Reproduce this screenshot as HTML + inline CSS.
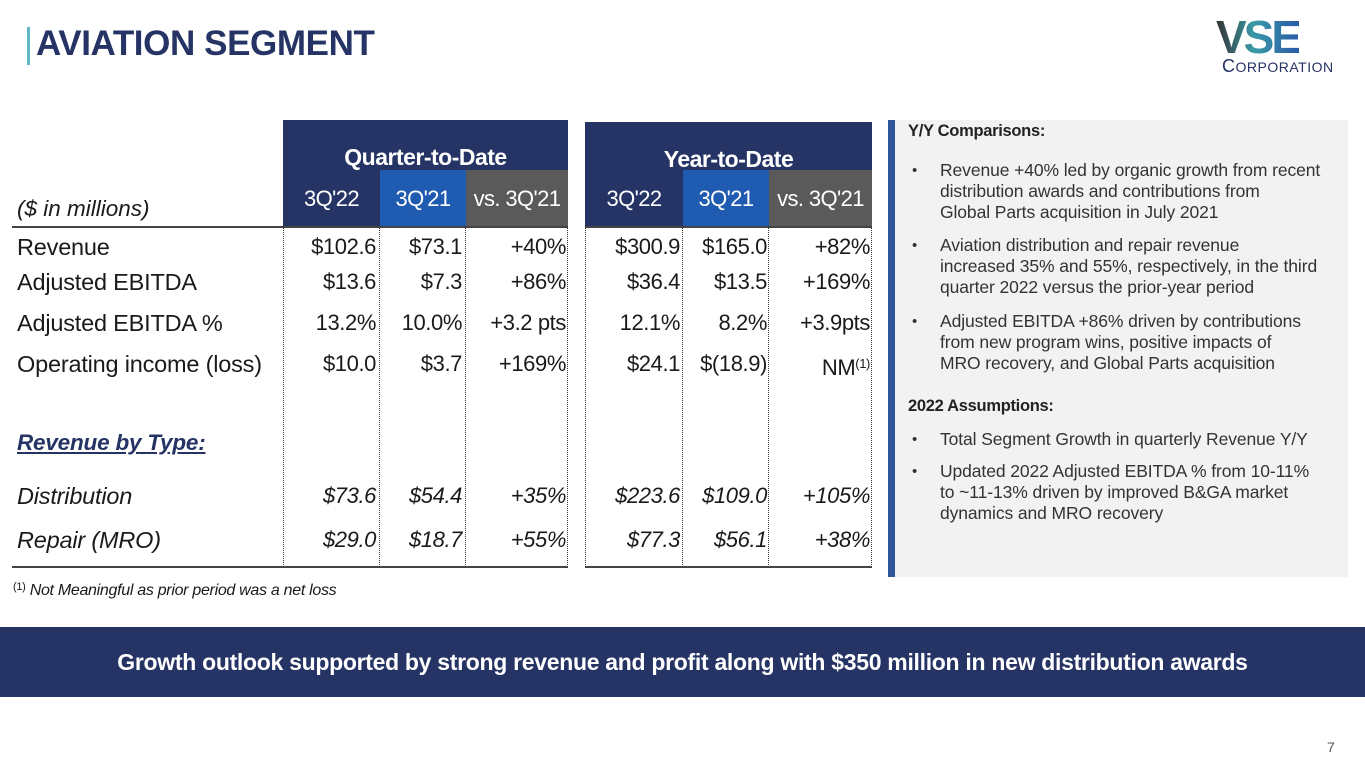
<!DOCTYPE html>
<html><head><meta charset="utf-8"><style>
body{margin:0;width:1365px;height:768px;position:relative;background:#fff;font-family:"Liberation Sans",sans-serif;overflow:hidden;color:#1a1a1a}
.a{position:absolute;white-space:nowrap}
.v{position:absolute;font-size:22px;line-height:26px;text-align:right;white-space:nowrap;letter-spacing:-0.4px}
.l{position:absolute;font-size:23.5px;line-height:26px;left:17px;white-space:nowrap;letter-spacing:-0.2px}
.dl{position:absolute;top:227px;height:340px;border-left:1px dotted #333}
.hd{position:absolute;color:#fff;font-size:22px;line-height:57px;text-align:center;letter-spacing:-0.6px}
.p{position:absolute;left:940px;font-size:17.5px;line-height:21px;white-space:nowrap;letter-spacing:-0.1px;color:#333}
.b{position:absolute;left:912px;font-size:15px;line-height:21px;color:#333}
</style></head><body>
<div class="a" style="left:27px;top:27px;width:3px;height:38px;background:#5fb8c8"></div>
<div class="a" style="left:36px;top:24px;font-size:35px;font-weight:bold;color:#253365;letter-spacing:-0.4px">AVIATION SEGMENT</div>
<div class="a" style="left:1216px;top:14px;font-size:46px;font-weight:bold;letter-spacing:-3px;line-height:46px;background:linear-gradient(90deg,#333 0%,#3a9aa8 45%,#2a5aa8 100%);-webkit-background-clip:text;color:transparent">VSE</div>
<div class="a" style="left:1222px;top:56px;font-size:18px;color:#253365;letter-spacing:0.5px">C<span style="font-size:14px">ORPORATION</span></div>

<div class="a" style="left:283px;top:120px;width:285px;height:50px;background:#253365;color:#fff;font-weight:bold;font-size:23px;line-height:74px;text-align:center;letter-spacing:-0.5px">Quarter-to-Date</div>
<div class="hd" style="left:283px;top:170px;width:97px;background:#253365">3Q'22</div>
<div class="hd" style="left:380px;top:170px;width:86px;background:#1f5bb0">3Q'21</div>
<div class="hd" style="left:466px;top:170px;width:102px;background:#5a5a5a">vs. 3Q'21</div>
<div class="a" style="left:585px;top:122px;width:287px;height:48px;background:#253365;color:#fff;font-weight:bold;font-size:23px;line-height:74px;text-align:center;letter-spacing:-0.5px">Year-to-Date</div>
<div class="hd" style="left:585px;top:170px;width:98px;background:#253365">3Q'22</div>
<div class="hd" style="left:683px;top:170px;width:86px;background:#1f5bb0">3Q'21</div>
<div class="hd" style="left:769px;top:170px;width:103px;background:#5a5a5a">vs. 3Q'21</div>

<div class="a" style="left:17px;top:196px;font-size:22.5px;font-style:italic">($ in millions)</div>
<div class="a" style="left:12px;top:226px;width:556px;height:2px;background:#444"></div>
<div class="a" style="left:585px;top:226px;width:287px;height:2px;background:#444"></div>
<div class="a" style="left:12px;top:566px;width:556px;height:2px;background:#444"></div>
<div class="a" style="left:585px;top:566px;width:287px;height:2px;background:#444"></div>
<div class="dl" style="left:283px"></div><div class="dl" style="left:379px"></div><div class="dl" style="left:465px"></div><div class="dl" style="left:567px"></div>
<div class="dl" style="left:585px"></div><div class="dl" style="left:682px"></div><div class="dl" style="left:768px"></div><div class="dl" style="left:871px"></div>

<div class="l" style="top:234px">Revenue</div>
<div class="l" style="top:269px">Adjusted EBITDA</div>
<div class="l" style="top:310px">Adjusted EBITDA %</div>
<div class="l" style="top:351px">Operating income (loss)</div>
<div class="l" style="top:430px;font-weight:bold;font-style:italic;text-decoration:underline;color:#253365;font-size:22.5px">Revenue by Type:</div>
<div class="l" style="top:483px;font-style:italic">Distribution</div>
<div class="l" style="top:527px;font-style:italic">Repair (MRO)</div>

<div class="v" style="right:989px;top:234px">$102.6</div><div class="v" style="right:903px;top:234px">$73.1</div><div class="v" style="right:799px;top:234px">+40%</div>
<div class="v" style="right:685px;top:234px">$300.9</div><div class="v" style="right:598px;top:234px">$165.0</div><div class="v" style="right:495px;top:234px">+82%</div>
<div class="v" style="right:989px;top:269px">$13.6</div><div class="v" style="right:903px;top:269px">$7.3</div><div class="v" style="right:799px;top:269px">+86%</div>
<div class="v" style="right:685px;top:269px">$36.4</div><div class="v" style="right:598px;top:269px">$13.5</div><div class="v" style="right:495px;top:269px">+169%</div>
<div class="v" style="right:989px;top:310px">13.2%</div><div class="v" style="right:903px;top:310px">10.0%</div><div class="v" style="right:799px;top:310px">+3.2 pts</div>
<div class="v" style="right:685px;top:310px">12.1%</div><div class="v" style="right:598px;top:310px">8.2%</div><div class="v" style="right:495px;top:310px">+3.9pts</div>
<div class="v" style="right:989px;top:351px">$10.0</div><div class="v" style="right:903px;top:351px">$3.7</div><div class="v" style="right:799px;top:351px">+169%</div>
<div class="v" style="right:685px;top:351px">$24.1</div><div class="v" style="right:598px;top:351px">$(18.9)</div><div class="v" style="right:495px;top:351px">NM<span style="font-size:13px;vertical-align:7px">(1)</span></div>
<div class="v" style="right:989px;top:483px;font-style:italic">$73.6</div><div class="v" style="right:903px;top:483px;font-style:italic">$54.4</div><div class="v" style="right:799px;top:483px;font-style:italic">+35%</div>
<div class="v" style="right:685px;top:483px;font-style:italic">$223.6</div><div class="v" style="right:598px;top:483px;font-style:italic">$109.0</div><div class="v" style="right:495px;top:483px;font-style:italic">+105%</div>
<div class="v" style="right:989px;top:527px;font-style:italic">$29.0</div><div class="v" style="right:903px;top:527px;font-style:italic">$18.7</div><div class="v" style="right:799px;top:527px;font-style:italic">+55%</div>
<div class="v" style="right:685px;top:527px;font-style:italic">$77.3</div><div class="v" style="right:598px;top:527px;font-style:italic">$56.1</div><div class="v" style="right:495px;top:527px;font-style:italic">+38%</div>

<div class="a" style="left:13px;top:581px;font-size:16px;font-style:italic;letter-spacing:-0.3px"><span style="font-size:11px;font-style:normal;vertical-align:5px">(1)</span> Not Meaningful as prior period was a net loss</div>

<div class="a" style="left:888px;top:120px;width:7px;height:457px;background:#2e5597"></div>
<div class="a" style="left:895px;top:120px;width:453px;height:457px;background:#f2f2f2"></div>
<div class="a" style="left:908px;top:122px;font-size:16.5px;font-weight:bold;color:#222;letter-spacing:-0.3px">Y/Y Comparisons:</div>
<div class="b" style="top:160px">•</div><div class="p" style="top:160px">Revenue +40% led by organic growth from recent<br>distribution awards and contributions from<br>Global Parts acquisition in July 2021</div>
<div class="b" style="top:235px">•</div><div class="p" style="top:235px">Aviation distribution and repair revenue<br>increased 35% and 55%, respectively, in the third<br>quarter 2022 versus the prior-year period</div>
<div class="b" style="top:311px">•</div><div class="p" style="top:311px">Adjusted EBITDA +86% driven by contributions<br>from new program wins, positive impacts of<br>MRO recovery, and Global Parts acquisition</div>
<div class="a" style="left:908px;top:397px;font-size:16.5px;font-weight:bold;color:#222;letter-spacing:-0.3px">2022 Assumptions:</div>
<div class="b" style="top:429px">•</div><div class="p" style="top:429px">Total Segment Growth in quarterly Revenue Y/Y</div>
<div class="b" style="top:461px">•</div><div class="p" style="top:461px">Updated 2022 Adjusted EBITDA % from 10-11%<br>to ~11-13% driven by improved B&amp;GA market<br>dynamics and MRO recovery</div>

<div class="a" style="left:0;top:627px;width:1365px;height:70px;background:#253365;color:#fff;font-weight:bold;font-size:23px;line-height:70px;text-align:center;letter-spacing:-0.3px">Growth outlook supported by strong revenue and profit along with $350 million in new distribution awards</div>
<div class="a" style="left:1327px;top:739px;font-size:14px;color:#555">7</div>
</body></html>
